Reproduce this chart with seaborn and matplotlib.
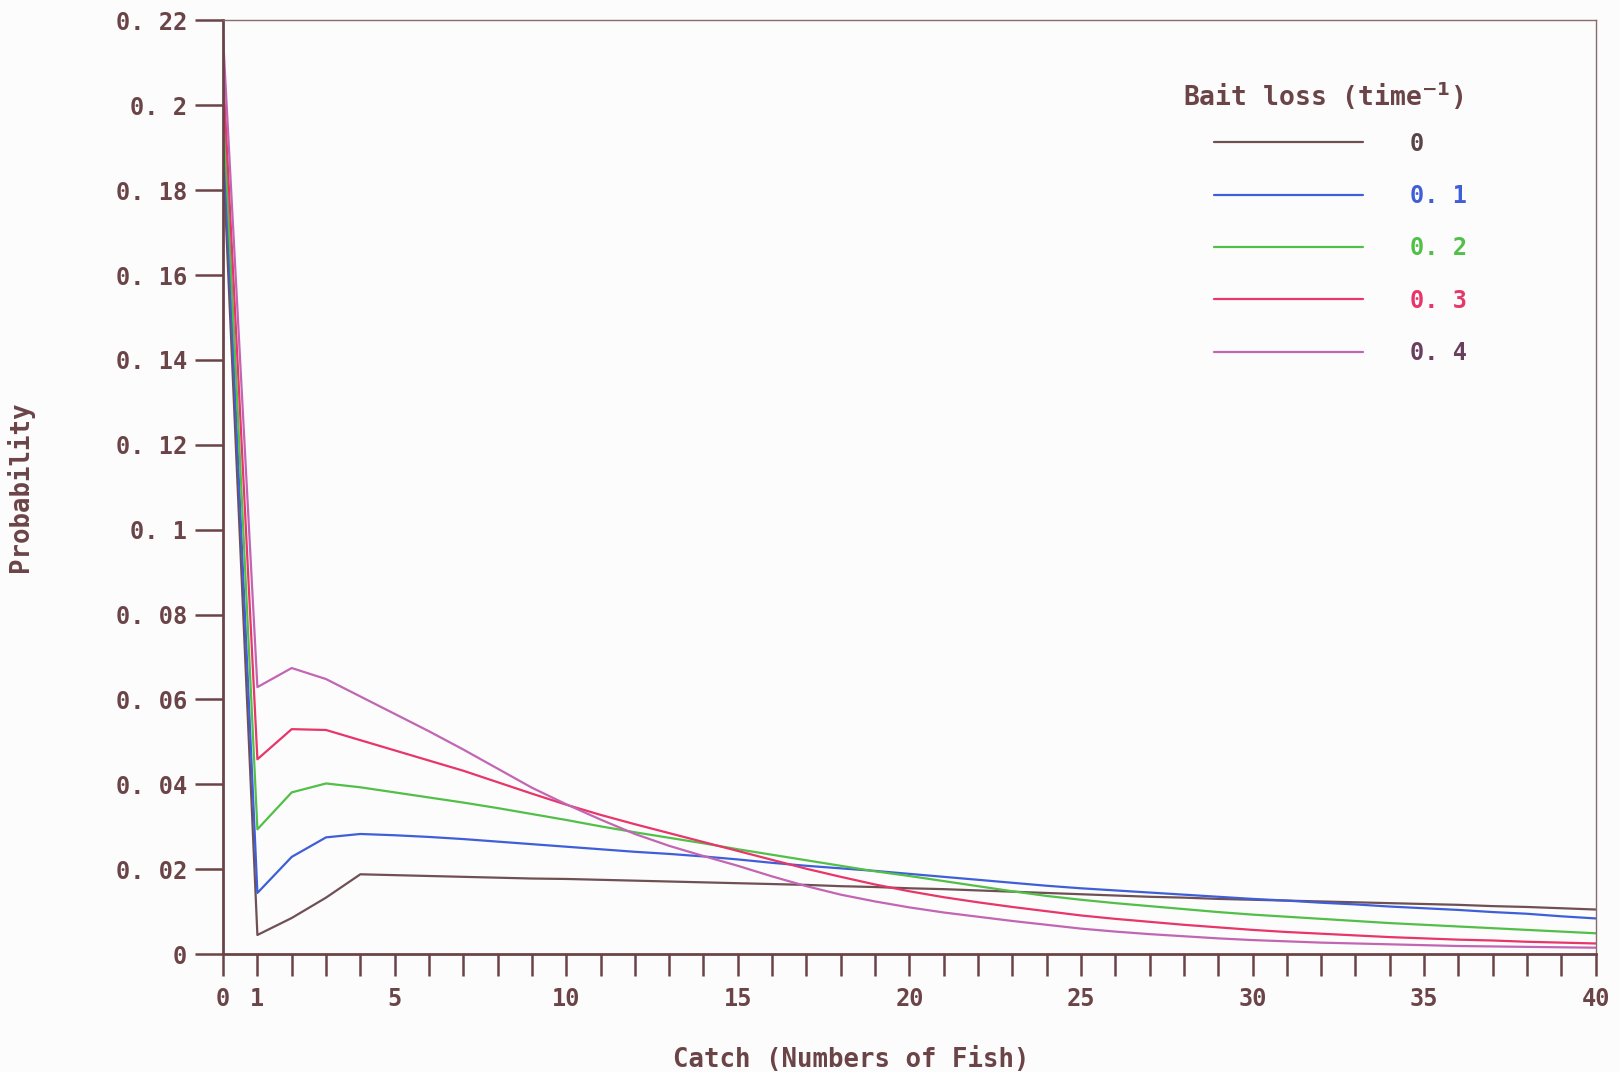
import numpy as np
import pandas as pd
import matplotlib
matplotlib.use("Agg")
import matplotlib.pyplot as plt
import seaborn as sns

# ---------------- data ----------------
catch = list(range(0, 41))
bait_loss_labels = ["0", "0. 1", "0. 2", "0. 3", "0. 4"]
legend_title = "Bait loss (time$^{-1}$)"

p_bl_00 = [0.188, 0.0045, 0.0085, 0.0133, 0.0188, 0.0186, 0.0184, 0.0182, 0.0180, 0.0178,
           0.0177, 0.0175, 0.0173, 0.0171, 0.0169, 0.0167, 0.0165, 0.0163, 0.0160, 0.0158,
           0.0155, 0.0153, 0.0150, 0.0147, 0.0144, 0.0141, 0.0138, 0.0135, 0.0133, 0.0130,
           0.0128, 0.0126, 0.0124, 0.0122, 0.0120, 0.0118, 0.0116, 0.0113, 0.0111, 0.0108,
           0.0105]
p_bl_01 = [0.195, 0.0144, 0.0229, 0.0275, 0.0283, 0.0280, 0.0276, 0.0271, 0.0265, 0.0259,
           0.0253, 0.0247, 0.0241, 0.0236, 0.0230, 0.0223, 0.0215, 0.0208, 0.0202, 0.0196,
           0.0189, 0.0182, 0.0175, 0.0168, 0.0161, 0.0155, 0.0150, 0.0145, 0.0140, 0.0135,
           0.0130, 0.0126, 0.0121, 0.0117, 0.0112, 0.0108, 0.0104, 0.0099, 0.0095, 0.0089,
           0.0084]
p_bl_02 = [0.201, 0.0294, 0.0381, 0.0402, 0.0393, 0.0381, 0.0369, 0.0357, 0.0344, 0.0330,
           0.0316, 0.0301, 0.0287, 0.0274, 0.0261, 0.0247, 0.0234, 0.0221, 0.0208, 0.0195,
           0.0184, 0.0172, 0.0160, 0.0148, 0.0137, 0.0128, 0.0120, 0.0113, 0.0106, 0.0099,
           0.0093, 0.0088, 0.0083, 0.0078, 0.0073, 0.0069, 0.0065, 0.0061, 0.0057, 0.0053,
           0.0049]
p_bl_03 = [0.208, 0.0459, 0.0530, 0.0528, 0.0504, 0.0480, 0.0456, 0.0432, 0.0405, 0.0378,
           0.0352, 0.0328, 0.0306, 0.0285, 0.0264, 0.0243, 0.0222, 0.0201, 0.0182, 0.0164,
           0.0148, 0.0134, 0.0122, 0.0111, 0.0101, 0.0091, 0.0083, 0.0076, 0.0069, 0.0063,
           0.0057, 0.0052, 0.0048, 0.0044, 0.0040, 0.0037, 0.0034, 0.0032, 0.0029, 0.0027,
           0.0025]
p_bl_04 = [0.216, 0.0629, 0.0674, 0.0648, 0.0607, 0.0566, 0.0525, 0.0482, 0.0437, 0.0392,
           0.0353, 0.0317, 0.0283, 0.0255, 0.0231, 0.0208, 0.0183, 0.0160, 0.0140, 0.0124,
           0.0110, 0.0098, 0.0088, 0.0078, 0.0069, 0.0060, 0.0053, 0.0047, 0.0042, 0.0037,
           0.0033, 0.0030, 0.0027, 0.0025, 0.0023, 0.0021, 0.0019, 0.0018, 0.0017, 0.0016,
           0.0015]

y_ticks = [0, 0.02, 0.04, 0.06, 0.08, 0.10, 0.12, 0.14, 0.16, 0.18, 0.20, 0.22]
y_tick_labels = ["0", "0. 02", "0. 04", "0. 06", "0. 08", "0. 1", "0. 12", "0. 14",
                 "0. 16", "0. 18", "0. 2", "0. 22"]
x_ticks = [0, 1, 5, 10, 15, 20, 25, 30, 35, 40]
x_tick_labels = ["0", "1", "5", "10", "15", "20", "25", "30", "35", "40"]

# ---------------- build frame ----------------
series = [p_bl_00, p_bl_01, p_bl_02, p_bl_03, p_bl_04]
frames = []
for lab, vals in zip(bait_loss_labels, series):
    frames.append(pd.DataFrame({"catch": catch, "prob": vals, "bait": lab}))
df = pd.concat(frames, ignore_index=True)

line_colors = ["#6e5055", "#3f5fd8", "#52bf48", "#e8356a", "#c266b4"]
text_colors = ["#5a4448", "#3f5fd8", "#52bf48", "#e8356a", "#6a3f5e"]
ink = "#6b4448"

sns.set_theme(style="white")
plt.rcParams["font.family"] = ["DejaVu Sans Mono", "DejaVu Sans"]
plt.rcParams["font.weight"] = "bold"
plt.rcParams["mathtext.default"] = "bf"

fig = plt.figure(figsize=(16.2, 10.72), dpi=100, facecolor="#fcfcfc")
ax = fig.add_axes([0.1377, 0.110, 0.8473, 0.871])
ax.set_facecolor("#fcfcfc")

sns.lineplot(data=df, x="catch", y="prob", hue="bait", hue_order=bait_loss_labels,
             palette=line_colors, linewidth=1.6, legend=False, ax=ax)

ax.set_xlim(0, 40)
ax.set_ylim(0, 0.22)

ax.set_yticks(y_ticks)
ax.set_yticklabels(y_tick_labels, fontsize=17, color=ink, fontweight="bold")
ax.set_xticks(x_ticks)
ax.set_xticklabels(x_tick_labels, fontsize=17, color=ink, fontweight="bold")
ax.set_xticks(catch, minor=True)
ax.tick_params(axis="y", which="major", direction="out", length=20, width=1.8,
               color=ink, pad=6, left=True)
ax.tick_params(axis="x", which="both", direction="out", length=16, width=1.8,
               color=ink, pad=8, bottom=True)

for side in ["left", "bottom"]:
    ax.spines[side].set_color(ink)
    ax.spines[side].set_linewidth(2.0)
for side in ["top", "right"]:
    ax.spines[side].set_color("#8a6a6e")
    ax.spines[side].set_linewidth(1.0)

ax.set_xlabel("Catch (Numbers of Fish)", fontsize=18.5, color=ink, fontweight="bold")
ax.set_ylabel("Probability", fontsize=18.5, color=ink, fontweight="bold")
ax.xaxis.set_label_coords(0.458, -0.10)
ax.yaxis.set_label_coords(-0.138, 0.5)

handles = ax.get_lines()[:5]
leg = ax.legend(handles, bait_loss_labels,
                loc="upper left", bbox_to_anchor=(0.715, 0.891), frameon=False,
                fontsize=17, handlelength=6.3,
                handletextpad=2.0, labelspacing=1.2, labelcolor=text_colors,
                borderaxespad=0, prop={"weight": "bold", "size": 17})
ax.text(0.699, 0.919, legend_title, transform=ax.transAxes, ha="left", va="center",
        fontsize=19, color=ink, fontweight="bold")

fig.savefig("out.png", dpi=100, facecolor=fig.get_facecolor())
